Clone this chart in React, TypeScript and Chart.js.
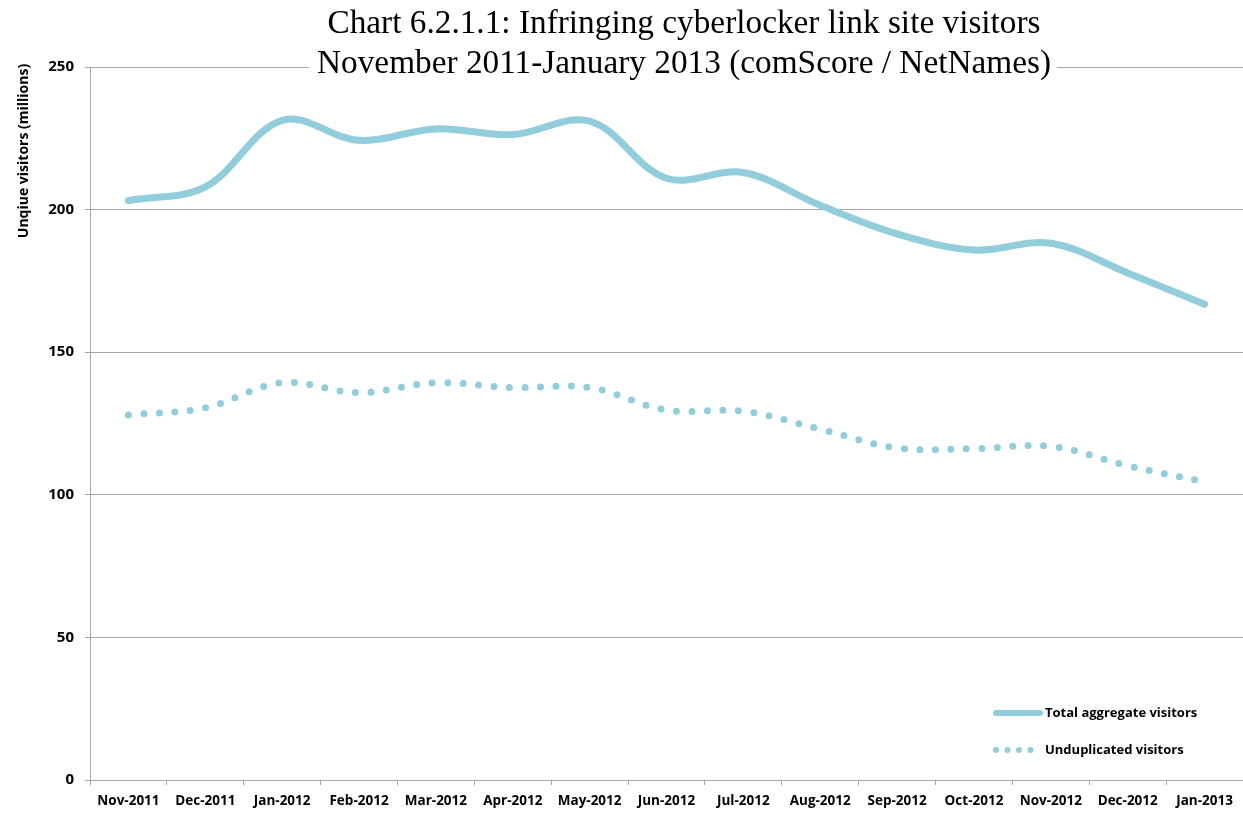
import React, { useEffect, useRef } from "react";
import { Chart, registerables } from "chart.js";

Chart.register(...registerables);

const categories = [
  "Nov-2011", "Dec-2011", "Jan-2012", "Feb-2012", "Mar-2012", "Apr-2012", "May-2012",
  "Jun-2012", "Jul-2012", "Aug-2012", "Sep-2012", "Oct-2012", "Nov-2012", "Dec-2012", "Jan-2013",
];
const totalVisitors = [203.2, 208, 231.3, 224.3, 228.3, 226.3, 231, 211, 213, 201.5, 191.5, 185.8, 188.2, 177.8, 166.8];
const unduplicatedVisitors = [128, 130.5, 139.3, 135.8, 139.3, 137.6, 137.6, 129.7, 129.3, 123, 116.4, 116.2, 117, 110.2, 104.5];
const yTicks = [0, 50, 100, 150, 200, 250];

const titleLines = [
  "Chart 6.2.1.1: Infringing cyberlocker link site visitors",
  "November 2011-January 2013 (comScore / NetNames)",
];
const yTitle = "Unqiue visitors (millions)";
const legendLabels = ["Total aggregate visitors", "Unduplicated visitors"];

const LINE_COLOR = "#92CDDC";
const GRID_COLOR = "#A6A6A6";
const LABEL_FONT = "'Open Sans', 'DejaVu Sans', sans-serif";

const decorPlugin = {
  id: "decor",
  afterDraw(chart: any) {
    const ctx = chart.ctx as CanvasRenderingContext2D;
    ctx.save();
    // Title with white background
    ctx.font = "33px 'Liberation Serif', serif";
    const w2 = ctx.measureText(titleLines[1]).width;
    const sx = 734 / w2;
    ctx.fillStyle = "#ffffff";
    ctx.fillRect(309, 0, 748, 86);
    ctx.fillStyle = "#000000";
    ctx.textAlign = "center";
    ctx.textBaseline = "alphabetic";
    const cx = 684;
    [33, 73].forEach((y, i) => {
      ctx.save();
      ctx.translate(cx, y);
      ctx.scale(sx, 1);
      ctx.fillText(titleLines[i], 0, 0);
      ctx.restore();
    });

    // Y axis title
    ctx.save();
    ctx.translate(24, 151);
    ctx.rotate(-Math.PI / 2);
    ctx.font = `bold 14px ${LABEL_FONT}`;
    ctx.textAlign = "center";
    ctx.textBaseline = "middle";
    ctx.fillStyle = "#000";
    ctx.fillText(yTitle, 0, 0);
    ctx.restore();

    // Legend
    ctx.strokeStyle = LINE_COLOR;
    ctx.lineCap = "round";
    ctx.lineWidth = 6;
    ctx.beginPath();
    ctx.moveTo(996, 713);
    ctx.lineTo(1040, 713);
    ctx.stroke();
    ctx.fillStyle = LINE_COLOR;
    [996, 1007.5, 1019, 1030.5].forEach((x) => {
      ctx.beginPath();
      ctx.arc(x, 750, 3, 0, Math.PI * 2);
      ctx.fill();
    });
    ctx.fillStyle = "#000";
    ctx.font = `bold 13px ${LABEL_FONT}`;
    ctx.textAlign = "left";
    ctx.textBaseline = "middle";
    ctx.fillText(legendLabels[0], 1045, 713);
    ctx.fillText(legendLabels[1], 1045, 750);
    ctx.restore();
  },
};

export default function App() {
  const ref = useRef<HTMLCanvasElement | null>(null);
  useEffect(() => {
    if (!ref.current) return;
    const chart = new Chart(ref.current, {
      type: "line",
      data: {
        labels: categories,
        datasets: [
          {
            label: legendLabels[0],
            data: totalVisitors,
            borderColor: LINE_COLOR,
            borderWidth: 7,
            borderCapStyle: "round",
            borderJoinStyle: "round",
            pointRadius: 0,
            tension: 0.36,
            fill: false,
          },
          {
            label: legendLabels[1],
            data: unduplicatedVisitors,
            borderColor: LINE_COLOR,
            borderWidth: 7,
            borderCapStyle: "round",
            borderDash: [0, 15.5],
            pointRadius: 0,
            tension: 0.36,
            fill: false,
          },
        ],
      },
      options: {
        responsive: false,
        animation: false,
        layout: { padding: { top: 67, left: 0, right: 0, bottom: 0 } },
        plugins: {
          legend: { display: false },
          title: { display: false },
          tooltip: { enabled: false },
        },
        scales: {
          x: {
            type: "category",
            offset: true,
            grid: {
              offset: true,
              drawOnChartArea: false,
              drawTicks: true,
              tickLength: 5,
              color: GRID_COLOR,
            },
            border: { display: true, color: GRID_COLOR, width: 1 },
            ticks: {
              color: "#000",
              font: { family: LABEL_FONT, size: 13.5, weight: "bold" },
              padding: 8,
              maxRotation: 0,
              autoSkip: false,
            },
            afterFit(scale: any) {
              scale.height = 35;
            },
          },
          y: {
            min: 0,
            max: 250,
            afterBuildTicks(scale: any) {
              scale.ticks = yTicks.map((v) => ({ value: v }));
            },
            grid: {
              color: GRID_COLOR,
              tickLength: 5,
              drawTicks: true,
            },
            border: { display: true, color: GRID_COLOR, width: 1 },
            ticks: {
              color: "#000",
              font: { family: LABEL_FONT, size: 15, weight: "bold" },
              padding: 11,
            },
            afterFit(scale: any) {
              scale.width = 90;
            },
          },
        },
      },
      plugins: [decorPlugin],
    } as any);
    return () => chart.destroy();
  }, []);
  return (
    <div style={{ position: "fixed", left: 0, top: 0, width: 1243, height: 815, background: "#fff" }}>
      <canvas ref={ref} width={1243} height={815} style={{ display: "block" }} />
    </div>
  );
}
